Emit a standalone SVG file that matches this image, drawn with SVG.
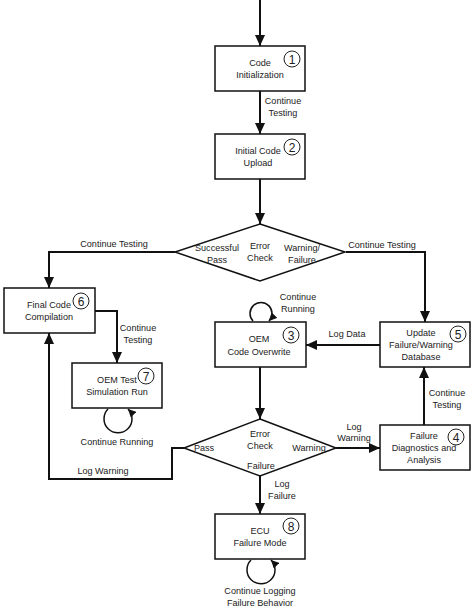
<svg xmlns="http://www.w3.org/2000/svg" width="474" height="612" viewBox="0 0 474 612">
<style>
text{font-family:"Liberation Sans",Arial,sans-serif;font-size:9.1px;fill:#222;text-anchor:middle}
.box{fill:#fff;stroke:#111;stroke-width:1.5}
.num{fill:#fff;stroke:#222;stroke-width:1}
.nt{font-size:12px}
.c{fill:none;stroke:#111;stroke-width:2}
.l{fill:none;stroke:#111;stroke-width:1.5}
</style>
<defs>
<marker id="a" markerUnits="userSpaceOnUse" markerWidth="12" markerHeight="10" refX="11" refY="5" orient="auto"><path d="M0,0 L11,5 L0,10 z" fill="#111"/></marker>
<marker id="s" markerUnits="userSpaceOnUse" markerWidth="9" markerHeight="8" refX="8" refY="4" orient="auto"><path d="M0,0 L8,4 L0,8 z" fill="#111"/></marker>
</defs>
<rect width="474" height="612" fill="#fff"/>
<g id="connectors">
<path class="c" d="M260,0 V46" marker-end="url(#a)"/>
<path class="c" d="M260,91 V134" marker-end="url(#a)"/>
<path class="c" d="M260,179 V224" marker-end="url(#a)"/>
<path class="c" d="M175,252 H49 V288" marker-end="url(#a)"/>
<path class="c" d="M346,252 H425 V322" marker-end="url(#a)"/>
<path class="c" d="M95,311 H117 V363" marker-end="url(#a)"/>
<path class="c" d="M380,345 H306" marker-end="url(#a)"/>
<path class="c" d="M260,367 V419" marker-end="url(#a)"/>
<path class="c" d="M336,448 H380" marker-end="url(#a)"/>
<path class="c" d="M424,425 V367" marker-end="url(#a)"/>
<path class="c" d="M184,448 H172 V479 H49 V333" marker-end="url(#a)"/>
<path class="c" d="M260,476 V514" marker-end="url(#a)"/>
<path class="l" d="M253,321 A11,11 0 1 1 269,321" marker-end="url(#s)"/>
<path class="l" d="M108,409 A14,14 0 1 0 128,409" marker-end="url(#s)"/>
<path class="l" d="M251,560 A14,14 0 1 0 271,560" marker-end="url(#s)"/>
<text x="283" y="104">Continue</text>
<text x="283" y="116">Testing</text>
<text x="114" y="247">Continue Testing</text>
<text x="382" y="248">Continue Testing</text>
<text x="138" y="331">Continue</text>
<text x="138" y="343">Testing</text>
<text x="298" y="300">Continue</text>
<text x="298" y="312">Running</text>
<text x="347" y="337">Log Data</text>
<text x="447" y="396">Continue</text>
<text x="447" y="408">Testing</text>
<text x="117" y="445">Continue Running</text>
<text x="103" y="474">Log Warning</text>
<text x="354" y="430">Log</text>
<text x="354" y="441">Warning</text>
<text x="282" y="487">Log</text>
<text x="282" y="499">Failure</text>
<text x="260" y="594">Continue Logging</text>
<text x="260" y="606">Failure Behavior</text>
</g>
<g id="n1">
<rect class="box" x="215" y="46" width="90" height="45"/>
<text x="260" y="66">Code</text>
<text x="260" y="78">Initialization</text>
<circle class="num" cx="292" cy="59" r="8"/><text class="nt" x="292" y="63.5">1</text>
</g>
<g id="n2">
<rect class="box" x="215" y="134" width="90" height="45"/>
<text x="258" y="154">Initial Code</text>
<text x="258" y="166">Upload</text>
<circle class="num" cx="292" cy="147" r="8"/><text class="nt" x="292" y="151.5">2</text>
</g>
<g id="d1">
<polygon class="box" points="260,224 345,252 260,281 175,252"/>
<text x="217" y="251">Successful</text>
<text x="217" y="263">Pass</text>
<text x="260" y="249">Error</text>
<text x="260" y="261">Check</text>
<text x="302" y="251">Warning/</text>
<text x="302" y="263">Failure</text>
</g>
<g id="n6">
<rect class="box" x="4" y="288" width="91" height="45"/>
<text x="49" y="308">Final Code</text>
<text x="49" y="320">Compilation</text>
<circle class="num" cx="81" cy="301" r="8"/><text class="nt" x="81" y="305.5">6</text>
</g>
<g id="n7">
<rect class="box" x="72" y="363" width="90" height="45"/>
<text x="117" y="383">OEM Test</text>
<text x="117" y="395">Simulation Run</text>
<circle class="num" cx="146" cy="376" r="8"/><text class="nt" x="146" y="380.5">7</text>
</g>
<g id="n3">
<rect class="box" x="215" y="322" width="91" height="45"/>
<text x="259" y="342">OEM</text>
<text x="259" y="355">Code Overwrite</text>
<circle class="num" cx="291" cy="335" r="8"/><text class="nt" x="291" y="339.5">3</text>
</g>
<g id="n5">
<rect class="box" x="380" y="322" width="90" height="45"/>
<text x="421" y="336">Update</text>
<text x="421" y="348">Failure/Warning</text>
<text x="421" y="360">Database</text>
<circle class="num" cx="458" cy="334" r="8"/><text class="nt" x="458" y="338.5">5</text>
</g>
<g id="d2">
<polygon class="box" points="260,419 336,448 260,476 184,448"/>
<text x="260" y="437">Error</text>
<text x="260" y="449">Check</text>
<text x="204" y="451">Pass</text>
<text x="309" y="451">Warning</text>
<text x="261" y="469">Failure</text>
</g>
<g id="n4">
<rect class="box" x="380" y="425" width="90" height="45"/>
<text x="424" y="439">Failure</text>
<text x="424" y="451">Diagnostics and</text>
<text x="424" y="463">Analysis</text>
<circle class="num" cx="456" cy="437" r="8"/><text class="nt" x="456" y="441.5">4</text>
</g>
<g id="n8">
<rect class="box" x="215" y="514" width="90" height="45"/>
<text x="260" y="534">ECU</text>
<text x="260" y="546">Failure Mode</text>
<circle class="num" cx="291" cy="526" r="8"/><text class="nt" x="291" y="530.5">8</text>
</g>
</svg>
